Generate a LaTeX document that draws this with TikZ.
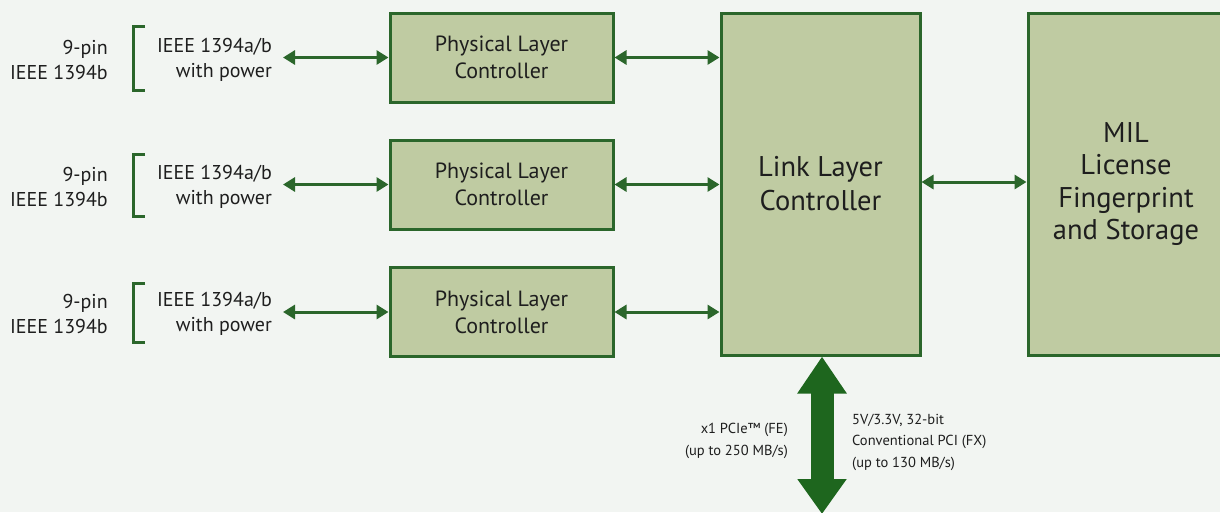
\documentclass[tikz,border=0pt]{standalone}
\usepackage{fontspec}
\setmainfont{PT Sans}
\usetikzlibrary{arrows.meta}
\definecolor{bg}{HTML}{F2F5F2}
\definecolor{boxfill}{HTML}{BFCBA2}
\definecolor{dkgreen}{HTML}{2B662B}
\definecolor{bigarrow}{HTML}{1E661E}
\definecolor{txt}{HTML}{1E1E1E}
\begin{document}
\begin{tikzpicture}[x=1pt,y=-1pt,
  blk/.style={draw=dkgreen, fill=boxfill, line width=3pt, inner sep=0pt, text=txt, align=center},
  physbox/.style={blk, minimum width=223pt, minimum height=89pt, font=\fontsize{22}{27}\selectfont},
  lblR/.style={text=txt, inner sep=0pt, align=right, font=\fontsize{20}{25}\selectfont},
  small/.style={text=txt, inner sep=0pt, font=\fontsize{14.5}{21.5}\selectfont},
  biarrow/.style={draw=dkgreen, line width=3pt, {Triangle[length=12pt,width=14pt]}-{Triangle[length=12pt,width=14pt]}},
  brk/.style={draw=dkgreen, line width=3pt}]
\fill[bg] (0,0) rectangle (1220,512);
\useasboundingbox (0,0) rectangle (1220,512);

% boxes
\node[physbox] (phys1) at (501.5,57.5) {Physical Layer\\Controller};
\node[physbox] (phys2) at (501.5,184.5) {Physical Layer\\Controller};
\node[physbox] (phys3) at (501.5,312) {Physical Layer\\Controller};
\node[blk, minimum width=199pt, minimum height=342pt, font=\fontsize{28.5}{34}\selectfont] (link) at (820.5,184) {Link Layer\\Controller};
\node[blk, minimum width=196pt, minimum height=342pt, font=\fontsize{28.5}{32.5}\selectfont] (mil) at (1126,184) {MIL\\License\\Fingerprint\\and Storage};

% left labels
\node[lblR, anchor=east] (pin1) at (108,59.5) {9-pin\\IEEE 1394b};
\node[lblR, anchor=east] (pin2) at (108,187) {9-pin\\IEEE 1394b};
\node[lblR, anchor=east] (pin3) at (108,314) {9-pin\\IEEE 1394b};
\node[lblR, anchor=east] (std1) at (272,59.5) {IEEE 1394a/b\\with power};
\node[lblR, anchor=east] (std2) at (272,187) {IEEE 1394a/b\\with power};
\node[lblR, anchor=east] (std3) at (272,314) {IEEE 1394a/b\\with power};

% brackets
\draw[brk] (145,26) -- (133,26) -- (133,90) -- (145,90);
\draw[brk] (145,154) -- (133,154) -- (133,216) -- (145,216);
\draw[brk] (145,283) -- (133,283) -- (133,342) -- (145,342);

% connectors
\coordinate (in1) at (283,57.5);
\coordinate (in2) at (283,184.5);
\coordinate (in3) at (283,312);
\draw[biarrow] (in1) -- (phys1.west);
\draw[biarrow] (in2) -- (phys2.west);
\draw[biarrow] (in3) -- (phys3.west);
\draw[biarrow] (phys1.east) -- (link.west |- phys1.east);
\draw[biarrow] (phys2.east) -- (link.west |- phys2.east);
\draw[biarrow] (phys3.east) -- (link.west |- phys3.east);
\draw[biarrow] (link.east |- 0,182) -- (mil.west |- 0,182);

% bus arrow
\coordinate (busend) at (822,514);
\draw[bigarrow, line width=23pt, {Triangle[length=37pt,width=47pt]}-{Triangle[length=35pt,width=47pt]}] (link.south -| busend) -- (busend);

\node[small, anchor=east, align=right] (pcie) at (788,441) {x1 PCIe™ (FE)\\(up to 250 MB/s)};
\node[small, anchor=west, align=left] (pci) at (852,442) {5V/3.3V, 32-bit\\Conventional PCI (FX)\\(up to 130 MB/s)};
\end{tikzpicture}
\end{document}
